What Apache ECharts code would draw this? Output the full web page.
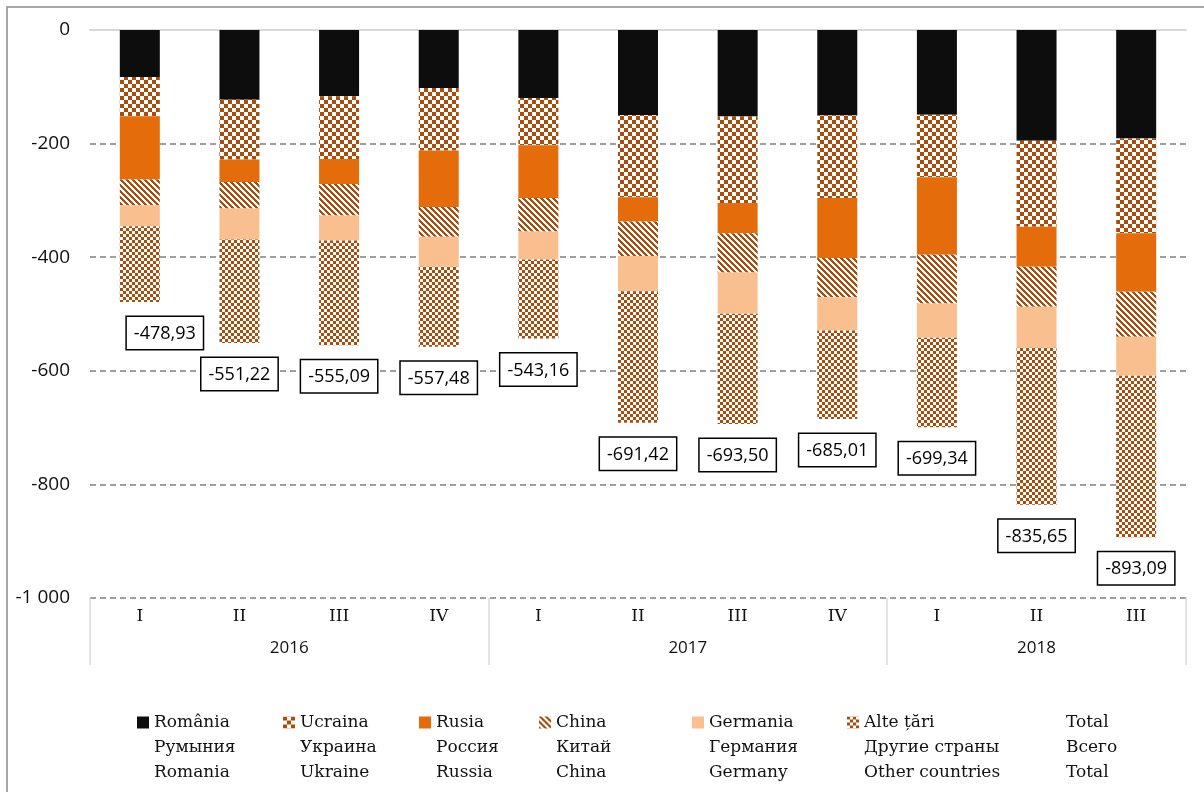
<!DOCTYPE html>
<html>
<head>
<meta charset="utf-8">
<script src="https://cdn.jsdelivr.net/npm/echarts@6/dist/echarts.min.js"></script>
<style>
  html, body { margin: 0; padding: 0; background: #fff; }
  #chart { width: 1204px; height: 792px; }
</style>
</head>
<body>
<div id="chart"></div>
<script>
// categorii (trimestre) si ani
const quarters = ['I', 'II', 'III', 'IV', 'I', 'II', 'III', 'IV', 'I', 'II', 'III']
const years = ['2016', '2017', '2018']
const yearCenters = [2, 6, 9.5]
const yearBounds = [0, 4, 8, 11]

// valori pe tari, mil. USD
const romania = [-82.7, -122.6, -116.7, -102.1, -119.6, -149.6, -152.5, -150.7, -149.1, -194.8, -190.9]
const ucraina = [-69.2, -105.6, -110.3, -110.2, -83.3, -144.8, -151.9, -144.9, -110.3, -151.4, -167.0]
const rusia = [-111.4, -39.2, -44.0, -99.1, -92.7, -42.8, -53.4, -105.6, -136.4, -70.4, -103.1]
const china = [-45.2, -47.0, -55.7, -52.8, -59.2, -60.5, -69.2, -69.2, -85.5, -70.5, -79.0]
const germania = [-37.0, -54.5, -44.0, -52.8, -49.3, -62.1, -72.7, -58.6, -60.7, -72.4, -68.5]
const alte = [-133.4, -182.3, -184.4, -140.5, -139.1, -231.6, -193.8, -156.0, -157.3, -276.2, -284.6]
const totals = [-478.93, -551.22, -555.09, -557.48, -543.16, -691.42, -693.50, -685.01, -699.34, -835.65, -893.09]

// legenda: ro / ru / en
const legendRo = ['România', 'Ucraina', 'Rusia', 'China', 'Germania', 'Alte țări', 'Total']
const legendRu = ['Румыния', 'Украина', 'Россия', 'Китай', 'Германия', 'Другие страны', 'Всего']
const legendEn = ['Romania', 'Ukraine', 'Russia', 'China', 'Germany', 'Other countries', 'Total']
const legendLeft = [132, 278, 414, 534, 687, 842, 1044]

const BROWN = '#a84d0b'

// modele (hasuri) ca in Excel
function makePattern(size, test) {
  const c = document.createElement('canvas')
  c.width = size
  c.height = size
  const ctx = c.getContext('2d')
  ctx.fillStyle = '#fff'
  ctx.fillRect(0, 0, size, size)
  ctx.fillStyle = BROWN
  for (let x = 0; x < size; x++) {
    for (let y = 0; y < size; y++) {
      if (test(x, y)) ctx.fillRect(x, y, 1, 1)
    }
  }
  return { image: c, repeat: 'repeat' }
}

const checkerLarge = makePattern(8, (x, y) => (Math.floor(x / 4) + Math.floor(y / 4)) % 2 === 0)
const checkerSmall = makePattern(6, (x, y) => (Math.floor(x / 3) + Math.floor(y / 3)) % 2 === 0)
const diagonal = makePattern(6, (x, y) => ((x - y) % 6 + 6) % 6 < 3)

const fmtNum = v => v.toFixed(2).replace('.', ',')

const chart = echarts.init(document.getElementById('chart'))

const barSeries = [
  { name: legendRo[0], data: romania, color: '#0d0d0d' },
  { name: legendRo[1], data: ucraina, color: checkerLarge },
  { name: legendRo[2], data: rusia, color: '#e46c0a' },
  { name: legendRo[3], data: china, color: diagonal },
  { name: legendRo[4], data: germania, color: '#fabf8f' },
  { name: legendRo[5], data: alte, color: checkerSmall }
].map(s => ({
  name: s.name,
  type: 'bar',
  stack: 'total',
  barWidth: 40,
  data: s.data,
  itemStyle: { color: s.color },
  emphasis: { disabled: true }
}))

// eticheta cu totalul, sub ultimul segment al coloanei
const lastBar = barSeries[barSeries.length - 1]
lastBar.data = alte.map((v, i) => i === 0
  ? { value: v, label: { offset: [25, 0] } }
  : v)
lastBar.label = {
  show: true,
  position: 'bottom',
  distance: 15,
  formatter: p => fmtNum(totals[p.dataIndex]),
  fontFamily: 'Open Sans',
  fontSize: 18,
  color: '#000',
  backgroundColor: '#fff',
  borderColor: '#000',
  borderWidth: 1.5,
  padding: [8, 7, 6, 7]
}

// seria Total (doar pentru legenda)
const totalSeries = {
  name: 'Total',
  type: 'scatter',
  symbolSize: 1,
  itemStyle: { opacity: 0 },
  emphasis: { disabled: true },
  data: totals,
  silent: true
}

const legends = legendRo.map((name, i) => ({
  left: legendLeft[i],
  top: 655,
  itemWidth: 12,
  itemHeight: 12,
  selectedMode: false,
  data: [i === 6
    ? { name: name, icon: 'rect', itemStyle: { opacity: 0 } }
    : { name: name, icon: 'rect' }],
  formatter: () => '\n\n' + legendRo[i] + '\n' + legendRu[i] + '\n' + legendEn[i],
  textStyle: {
    fontFamily: 'DejaVu Serif',
    fontSize: 17,
    lineHeight: 25,
    color: '#111'
  }
}))

chart.setOption({
  animation: false,
  backgroundColor: '#fff',
  grid: { left: 90, right: 18, top: 30, bottom: 194, containLabel: false },
  legend: legends,
  xAxis: [
    {
      type: 'category',
      data: quarters,
      position: 'bottom',
      axisLine: { show: false },
      axisTick: { show: false },
      axisLabel: { fontFamily: 'DejaVu Serif', fontSize: 17, color: '#111', margin: 10 }
    },
    {
      type: 'value',
      min: 0,
      max: 11,
      position: 'bottom',
      axisLine: { show: false },
      splitLine: { show: false },
      axisTick: {
        show: true,
        customValues: yearBounds,
        length: 67,
        lineStyle: { color: '#d9d9d9', width: 1.5 }
      },
      axisLabel: {
        customValues: yearCenters,
        formatter: v => years[yearCenters.indexOf(v)],
        fontFamily: 'Open Sans',
        fontSize: 17,
        color: '#111',
        margin: 42
      }
    },
    {
      type: 'category',
      data: quarters,
      position: 'top',
      axisLine: { show: true, lineStyle: { color: '#d9d9d9', width: 2 } },
      axisTick: { show: false },
      axisLabel: { show: false }
    }
  ],
  yAxis: {
    type: 'value',
    min: -1000,
    max: 0,
    interval: 200,
    axisLine: { show: false },
    axisTick: { show: false, customValues: [-1000, -800, -600, -400, -200] },
    axisLabel: {
      formatter: v => v === -1000 ? '-1 000' : String(v),
      fontFamily: 'Open Sans',
      fontSize: 19,
      color: '#111',
      margin: 20
    },
    splitLine: { lineStyle: { color: '#808080', width: 1.5, type: [6, 4] } }
  },
  graphic: [{
    type: 'rect',
    silent: true,
    z: -1,
    shape: { x: 7, y: 7, width: 1300, height: 900 },
    style: { fill: 'none', stroke: '#8c8c8c', lineWidth: 1.5 }
  }],
  series: barSeries.concat([totalSeries])
})
</script>
</body>
</html>
